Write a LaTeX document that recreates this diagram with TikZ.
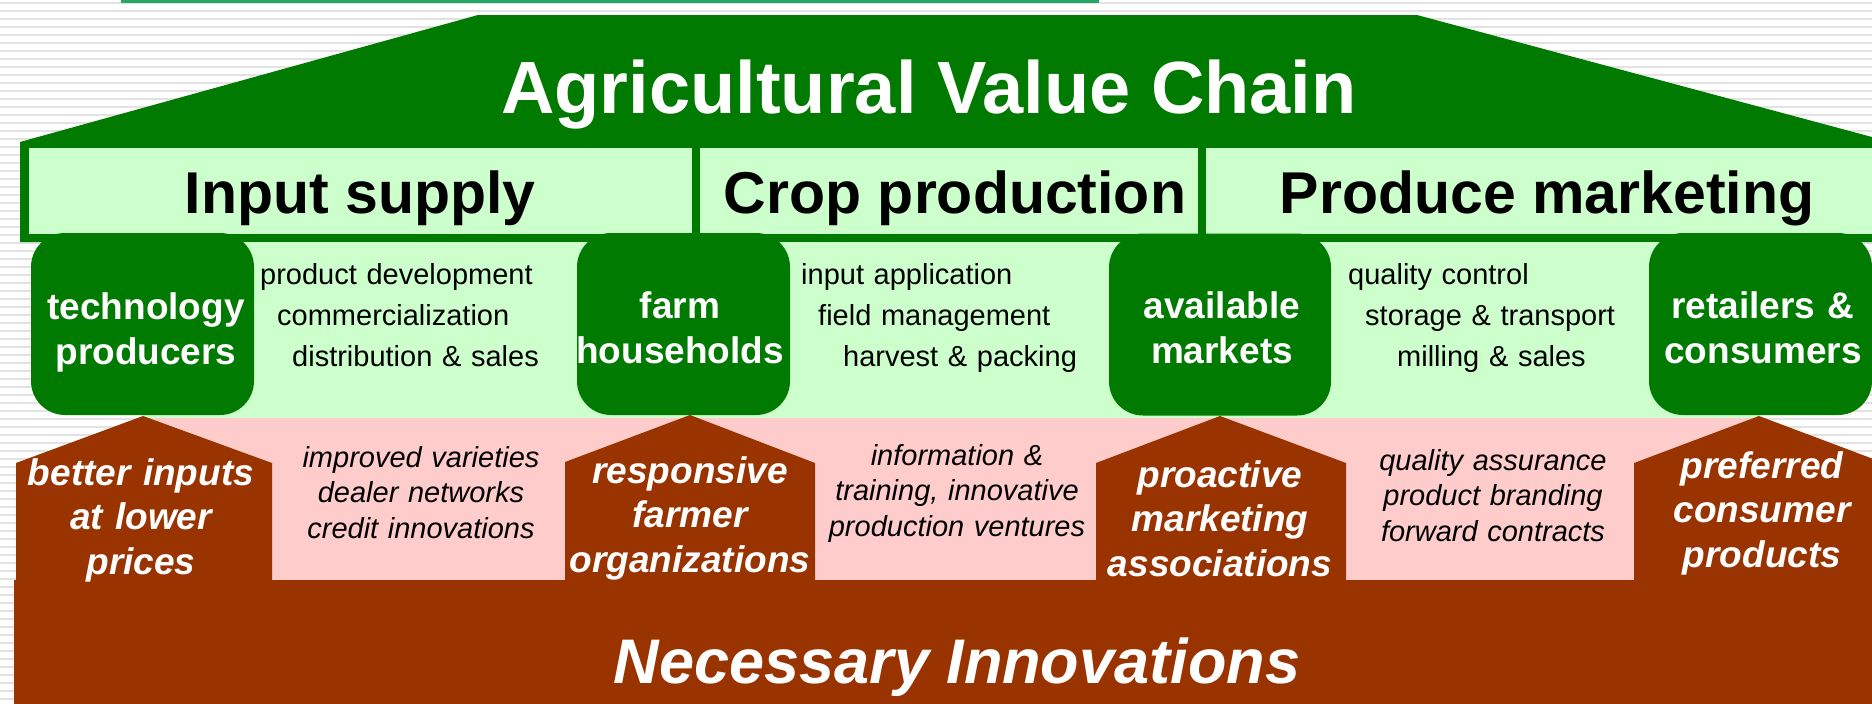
\documentclass[tikz,border=0pt]{standalone}
\usepackage{fontspec}
\setmainfont{Liberation Sans}
\definecolor{dkg}{RGB}{0,122,0}
\definecolor{ltg}{RGB}{204,255,204}
\definecolor{pnk}{RGB}{255,204,204}
\definecolor{brn}{RGB}{153,51,0}
\definecolor{topln}{RGB}{38,166,102}
\definecolor{strp}{RGB}{226,226,226}
\begin{document}
\begin{tikzpicture}[x=1pt,y=-1pt,
  hbox/.style={fill=ltg,draw=none,inner sep=0pt,minimum height=86pt},
  gbox/.style={fill=dkg,draw=none,rounded corners=34pt,inner sep=0pt,minimum height=182pt},
  titletext/.style={text=white,font=\fontsize{74}{80}\selectfont\bfseries,inner sep=0pt,anchor=base},
  htext/.style={text=black,font=\fontsize{59}{64}\selectfont\bfseries,inner sep=0pt,anchor=base},
  gtext/.style={text=white,font=\fontsize{37}{45}\selectfont\bfseries,inner sep=0pt,anchor=base,text width=300pt,align=center},
  acttext/.style={text=black,font=\fontsize{29}{41}\selectfont,inner sep=0pt,anchor=base west,text width=400pt,align=left},
  arrtext/.style={text=white,font=\fontsize{37}{44.5}\selectfont\bfseries\itshape,inner sep=0pt,anchor=base,text width=300pt,align=center},
  pinktext/.style={text=black,font=\fontsize{29}{35.5}\selectfont\itshape,inner sep=0pt,anchor=base,text width=320pt,align=center},
  bottext/.style={text=white,font=\fontsize{63}{70}\selectfont\bfseries\itshape,inner sep=0pt,anchor=base}]
\useasboundingbox (0,0) rectangle (1872,704);
% background
\fill[white] (0,0) rectangle (1872,704);
\foreach \yy in {3,11,...,701} \draw[strp,line width=2.5pt] (0,\yy) -- (1872,\yy);
\coordinate (tlA) at (121,1.5);
\coordinate (tlB) at (1099,1.5);
\draw[topln,line width=3pt] (tlA) -- (tlB);
% roof and header frame
\fill[dkg] (20,142) -- (478,15) -- (1417,15) -- (1872,137) -- (1872,242) -- (20,242) -- cycle;
% header boxes
\node[hbox,minimum width=663pt] (hb1) at (360.5,191) {};
\node[hbox,minimum width=498pt] (hb2) at (949,191) {};
\node[hbox,minimum width=670pt] (hb3) at (1541,191) {};
% bands
\fill[ltg] (143,242) rectangle (1760,418);
\fill[pnk] (143,418) rectangle (1760,580);
% brown base and arrows
\fill[brn] (14,580) rectangle (1872,704);
\fill[brn] (16,581) -- (16,463) -- (143,416) -- (272,463) -- (272,581) -- cycle;
\fill[brn] (565,581) -- (565,462) -- (690,415) -- (815,463) -- (815,581) -- cycle;
\fill[brn] (1096,581) -- (1096,463) -- (1220,416) -- (1346,463) -- (1346,581) -- cycle;
\fill[brn] (1634,581) -- (1634,463) -- (1759,416) -- (1884,463) -- (1884,581) -- cycle;
% green boxes
\node[gbox,minimum width=223pt] (g1) at (142.5,324) {};
\node[gbox,minimum width=213pt] (g2) at (683.5,324) {};
\node[gbox,minimum width=222pt] (g3) at (1220,324.5) {};
\node[gbox,minimum width=223pt] (g4) at (1760.5,324) {};
% texts
\node[titletext] (title) at (929,113) {Agricultural Value Chain};
\node[htext] (h1) at (360,213) {Input supply};
\node[htext] (h2) at (955,213) {Crop production};
\node[htext] (h3) at (1547,213) {Produce marketing};
\node[gtext] (gt1) at (146,319) {technology\\producers};
\node[gtext] (gt2) at (680,318) {farm\\households};
\node[gtext] (gt3) at (1222,318) {available\\markets};
\node[gtext] (gt4) at (1763,318) {retailers \&\\consumers};
\node[acttext] (a1) at (260,284) {product development\\\hspace*{17pt}commercialization\\\hspace*{32pt}distribution \& sales};
\node[acttext] (a2) at (801,284) {input application\\\hspace*{17pt}field management\\\hspace*{42pt}harvest \& packing};
\node[acttext] (a3) at (1348,284) {quality control\\\hspace*{17pt}storage \& transport\\\hspace*{49pt}milling \& sales};
\node[arrtext] (r1) at (141,485) {better inputs\\at lower\\prices};
\node[arrtext] (r2) at (690,483) {responsive\\farmer\\organizations};
\node[arrtext] (r3) at (1220,487) {proactive\\marketing\\associations};
\node[arrtext] (r4) at (1762,478) {preferred\\consumer\\products};
\node[pinktext] (p1) at (421,467) {improved varieties\\dealer networks\\credit innovations};
\node[pinktext] (p2) at (957,465) {information \&\\training, innovative\\production ventures};
\node[pinktext] (p3) at (1493,470) {quality assurance\\product branding\\forward contracts};
\node[bottext] (bot) at (957,683) {Necessary Innovations};
\end{tikzpicture}
\end{document}
